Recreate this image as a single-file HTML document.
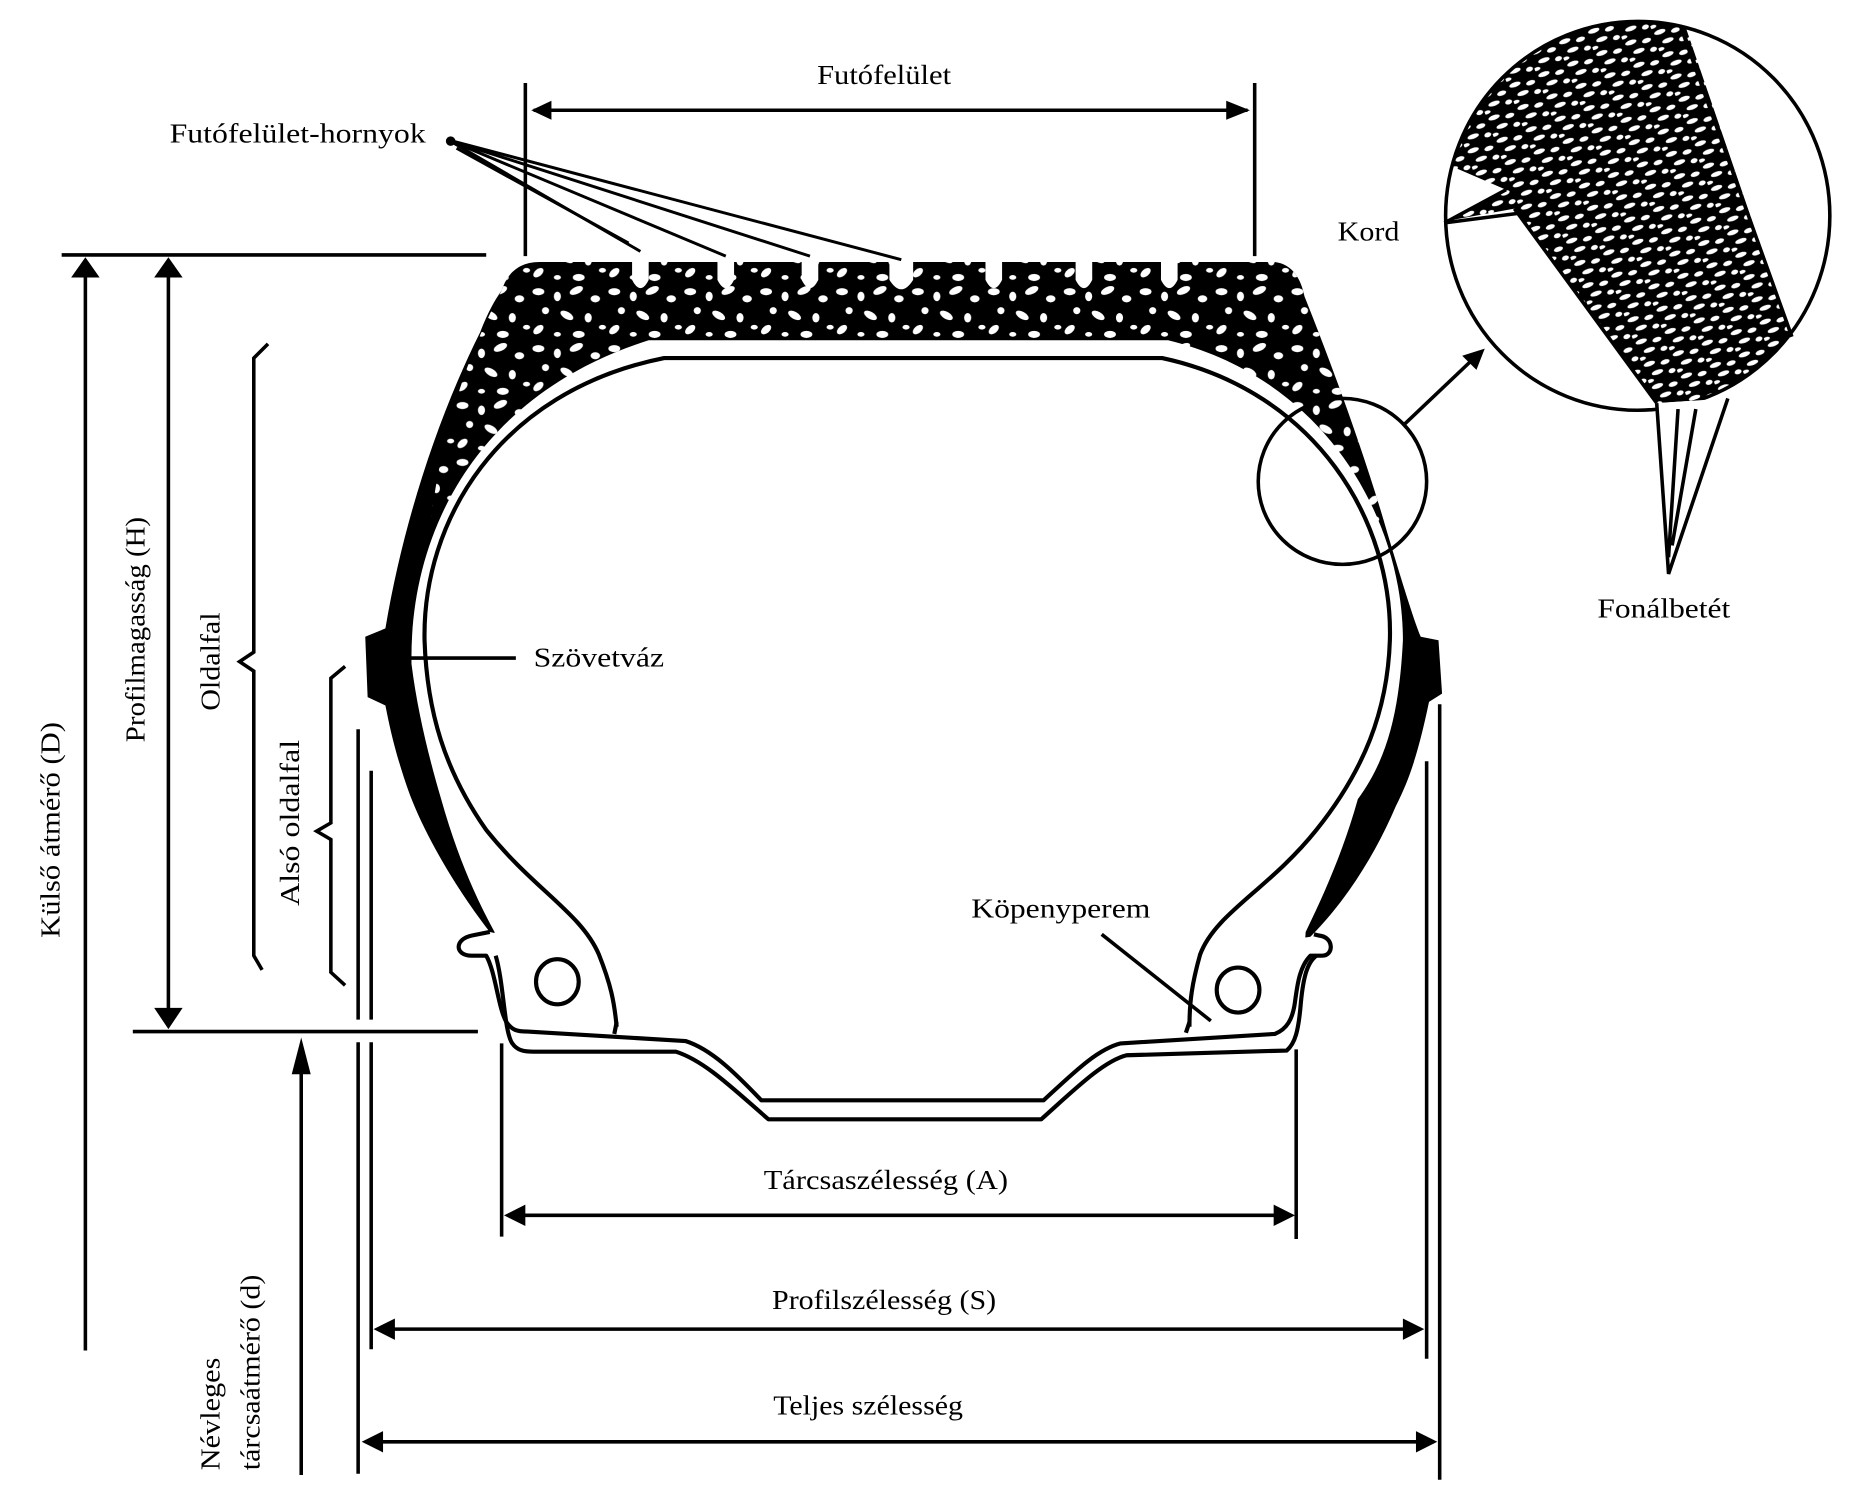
<!DOCTYPE html>
<html><head><meta charset="utf-8"><style>
html,body{margin:0;padding:0;background:#fff}
svg{display:block}
text{font-family:"Liberation Serif",serif;fill:#000}
</style></head><body>
<svg width="1850" height="1507" viewBox="0 0 1560 1271" preserveAspectRatio="none" xmlns="http://www.w3.org/2000/svg">
<defs>
<pattern id="tex" width="64" height="48" patternUnits="userSpaceOnUse">
<g fill="#fff">
<ellipse cx="6" cy="6" rx="5" ry="3"/><ellipse cx="22" cy="10" rx="3" ry="4"/><ellipse cx="38" cy="5" rx="6" ry="3" transform="rotate(-25 38 5)"/>
<ellipse cx="54" cy="12" rx="4" ry="3"/><ellipse cx="12" cy="22" rx="3" ry="3"/><ellipse cx="30" cy="26" rx="6" ry="3" transform="rotate(30 30 26)"/>
<ellipse cx="48" cy="28" rx="3" ry="4"/><ellipse cx="60" cy="36" rx="3" ry="2"/><ellipse cx="6" cy="38" rx="5" ry="3" transform="rotate(-40 6 38)"/>
<ellipse cx="22" cy="42" rx="3" ry="2"/><ellipse cx="40" cy="42" rx="5" ry="3"/>
</g></pattern>
<pattern id="tex2" width="26" height="20" patternUnits="userSpaceOnUse" patternTransform="rotate(-20)">
<rect width="26" height="20" fill="#000"/>
<g fill="#fff">
<ellipse cx="6" cy="4" rx="5" ry="2"/><ellipse cx="19" cy="7" rx="4" ry="2"/><ellipse cx="10" cy="13" rx="5" ry="2"/><ellipse cx="22" cy="16" rx="3" ry="2"/><ellipse cx="2" cy="18" rx="3" ry="1.5"/>
</g></pattern>
<clipPath id="topclip"><rect x="0" y="0" width="1560" height="470"/></clipPath>
<clipPath id="bigc"><ellipse cx="1381" cy="182" rx="162" ry="164"/></clipPath>
</defs>

<g stroke="#000" fill="none" stroke-width="3">
<line x1="443" y1="70" x2="443" y2="216"/>
<line x1="1058" y1="70" x2="1058" y2="216"/>
<line x1="450" y1="93" x2="1052" y2="93"/>
<line x1="52" y1="215" x2="410" y2="215"/>
<line x1="72" y1="225" x2="72" y2="1139"/>
<line x1="142" y1="225" x2="142" y2="860"/>
<line x1="112" y1="870" x2="403" y2="870"/>
<path d="M226,290 L214,302 L214,550 L202,558 L214,566 L214,806 L221,818"/>
<path d="M291,562 L279,572 L279,694 L267,701 L279,708 L279,820 L291,831"/>
<line x1="254" y1="1244" x2="254" y2="890"/>
<line x1="302" y1="615" x2="302" y2="860"/><line x1="302" y1="879" x2="302" y2="1243"/>
<line x1="313" y1="650" x2="313" y2="860"/><line x1="313" y1="879" x2="313" y2="1138"/>
<line x1="1203" y1="642" x2="1203" y2="1146"/>
<line x1="1214" y1="594" x2="1214" y2="1248"/>
<line x1="423" y1="880" x2="423" y2="1043"/>
<line x1="1093" y1="885" x2="1093" y2="1045"/>
<line x1="430" y1="1025" x2="1088" y2="1025"/>
<line x1="318" y1="1121" x2="1198" y2="1121"/>
<line x1="308" y1="1216" x2="1209" y2="1216"/>
</g>
<g fill="#000">
<polygon points="448,93 465,85 465,101"/>
<polygon points="1054,93 1034,85 1034,101"/>
<polygon points="72,217 60,234 84,234"/>
<polygon points="142,217 130,234 154,234"/>
<polygon points="142,868 130,850 154,850"/>
<polygon points="254,875 246,906 262,906"/>
<polygon points="425,1025 443,1016 443,1034"/>
<polygon points="1092,1025 1074,1016 1074,1034"/>
<polygon points="315,1121 333,1112 333,1130"/>
<polygon points="1201,1121 1183,1112 1183,1130"/>
<polygon points="305,1216 323,1207 323,1225"/>
<polygon points="1212,1216 1194,1207 1194,1225"/>
</g>

<path d="M423,245 C428,230 438,221 455,221 L1075,221 C1090,223 1097,235 1100,250 C1120,300 1150,380 1170,450 C1185,500 1193,525 1198,537 L1213,540 L1216,585 L1205,592 C1195,640 1187,660 1177,680 C1160,720 1135,760 1105,790 L1040,800 L480,800 L413,786 C385,750 355,700 342,660 C332,630 328,610 325,595 L310,588 L308,537 L325,530 C340,440 370,350 405,280 C412,262 418,252 423,245 Z" fill="#000"/>
<path d="M423,245 C428,230 438,221 455,221 L1075,221 C1090,223 1097,235 1100,250 C1120,300 1150,380 1170,450 L1170,470 L360,470 C370,350 405,280 423,245 Z" fill="url(#tex)" clip-path="url(#topclip)"/>
<g fill="#fff">
<path d="M533,218 L533,236 Q540,250 547,236 L547,218 Z"/>
<path d="M605,218 L605,236 Q612,250 619,236 L619,218 Z"/>
<path d="M676,218 L676,236 Q683,250 690,236 L690,218 Z"/>
<path d="M750,218 L750,236 Q760,252 770,236 L770,218 Z"/>
<path d="M831,218 L831,236 Q838,250 845,236 L845,218 Z"/>
<path d="M907,218 L907,236 Q914,250 921,236 L921,218 Z"/>
<path d="M979,218 L979,236 Q986,250 993,236 L993,218 Z"/>
</g>
<!-- white band -->
<path d="M417,786 C400,755 385,720 372,674 C362,640 352,600 347,560 C345,440 410,330 547,287 L985,287 C1120,320 1183,440 1183,540 C1180,600 1170,640 1145,674 C1132,720 1116,755 1101,786 L1095,872 L425,872 Z" fill="#fff"/>
<path d="M520,866 C518,845 515,830 505,805 C490,770 450,750 410,700 C375,650 360,600 358,540 C356,440 420,330 560,302 L980,302 C1110,330 1175,440 1172,540 C1170,600 1150,650 1110,700 C1070,750 1025,770 1012,805 C1005,830 1003,845 1003,866" fill="none" stroke="#000" stroke-width="3.5"/>
<g fill="none" stroke="#000" stroke-width="3.5" stroke-linejoin="round">
<path d="M413,786 L398,789 C383,792 383,806 398,806 L410,806 C418,820 420,850 427,862 C432,869 436,870 445,870 L578,878 C600,885 620,905 642,928 L880,928 C905,905 925,885 945,880 L1075,872 C1085,868 1090,860 1092,845 C1094,830 1096,815 1105,806 L1115,806 C1125,806 1125,790 1112,789 L1108,788"/>
<path d="M418,806 C425,830 425,870 432,880 C436,886 442,887 450,887 L570,887 C595,895 620,920 648,944 L878,944 C905,920 930,895 950,890 L1085,886 C1092,880 1095,870 1097,845 C1099,825 1102,812 1110,806"/>
<line x1="520" y1="862" x2="518" y2="872"/>
<line x1="1003" y1="862" x2="1000" y2="871"/>
<ellipse cx="470" cy="828" rx="18" ry="19"/>
<ellipse cx="1044" cy="835" rx="18" ry="19"/>
</g>
<ellipse cx="1132" cy="406" rx="71" ry="70" fill="none" stroke="#000" stroke-width="3"/>
<line x1="1183" y1="359" x2="1242" y2="303" stroke="#000" stroke-width="3"/>
<polygon points="1252,294 1233,300 1245,312" fill="#000"/>

<g clip-path="url(#bigc)">
<polygon points="1417,10 1300,10 1220,60 1212,135 1270,160 1222,186 1277,176 1397,340 1457,336 1520,290 1560,200" fill="url(#tex2)"/>
<polygon points="1417,10 1560,10 1560,300 1511,284" fill="#fff"/>
</g>
<ellipse cx="1381" cy="182" rx="162" ry="164" fill="none" stroke="#000" stroke-width="3"/>
<g stroke="#000" stroke-width="3" fill="none">
<line x1="1417" y1="22" x2="1511" y2="284"/>
<line x1="1277" y1="176" x2="1397" y2="340"/>
<path d="M1218,188 L1270,160 M1218,188 L1280,180"/>
<path d="M1397,340 L1407,484 L1457,336" fill="#fff"/>
<path d="M1415,345 L1407,470 M1430,345 L1410,460"/>
</g>

<g stroke="#000" stroke-width="2.5" fill="none">
<line x1="378" y1="118" x2="540" y2="212"/>
<line x1="378" y1="118" x2="612" y2="216"/>
<line x1="378" y1="118" x2="683" y2="216"/>
<line x1="378" y1="118" x2="760" y2="219"/>
<line x1="385" y1="125" x2="530" y2="205"/>
</g>
<circle cx="380" cy="119" r="4" fill="#000"/>
<line x1="343" y1="555" x2="435" y2="555" stroke="#000" stroke-width="3"/>
<line x1="929" y1="788" x2="1021" y2="861" stroke="#000" stroke-width="3"/>

<g font-size="23">
<text x="689" y="71" textLength="113" lengthAdjust="spacingAndGlyphs">Futófelület</text>
<text x="143" y="120" textLength="216" lengthAdjust="spacingAndGlyphs">Futófelület-hornyok</text>
<text x="1128" y="203" textLength="52" lengthAdjust="spacingAndGlyphs">Kord</text>
<text x="1347" y="521" textLength="112" lengthAdjust="spacingAndGlyphs">Fonálbetét</text>
<text x="450" y="562" textLength="110" lengthAdjust="spacingAndGlyphs">Szövetváz</text>
<text x="819" y="774" textLength="151" lengthAdjust="spacingAndGlyphs">Köpenyperem</text>
<text x="644" y="1003" textLength="206" lengthAdjust="spacingAndGlyphs">Tárcsaszélesség (A)</text>
<text x="651" y="1104" textLength="189" lengthAdjust="spacingAndGlyphs">Profilszélesség (S)</text>
<text x="652" y="1193" textLength="160" lengthAdjust="spacingAndGlyphs">Teljes szélesség</text>
<text transform="translate(50,700) rotate(-90)" text-anchor="middle" textLength="182" lengthAdjust="spacingAndGlyphs">Külső átmérő (D)</text>
<text transform="translate(122,531) rotate(-90)" text-anchor="middle" textLength="190" lengthAdjust="spacingAndGlyphs">Profilmagasság (H)</text>
<text transform="translate(185,558) rotate(-90)" text-anchor="middle" textLength="83" lengthAdjust="spacingAndGlyphs">Oldalfal</text>
<text transform="translate(252,694) rotate(-90)" text-anchor="middle" textLength="140" lengthAdjust="spacingAndGlyphs">Alsó oldalfal</text>
<text transform="translate(185,1240) rotate(-90)" textLength="95" lengthAdjust="spacingAndGlyphs">Névleges</text>
<text transform="translate(219,1240) rotate(-90)" textLength="165" lengthAdjust="spacingAndGlyphs">tárcsaátmérő (d)</text>
</g>
</svg>
</body></html>
